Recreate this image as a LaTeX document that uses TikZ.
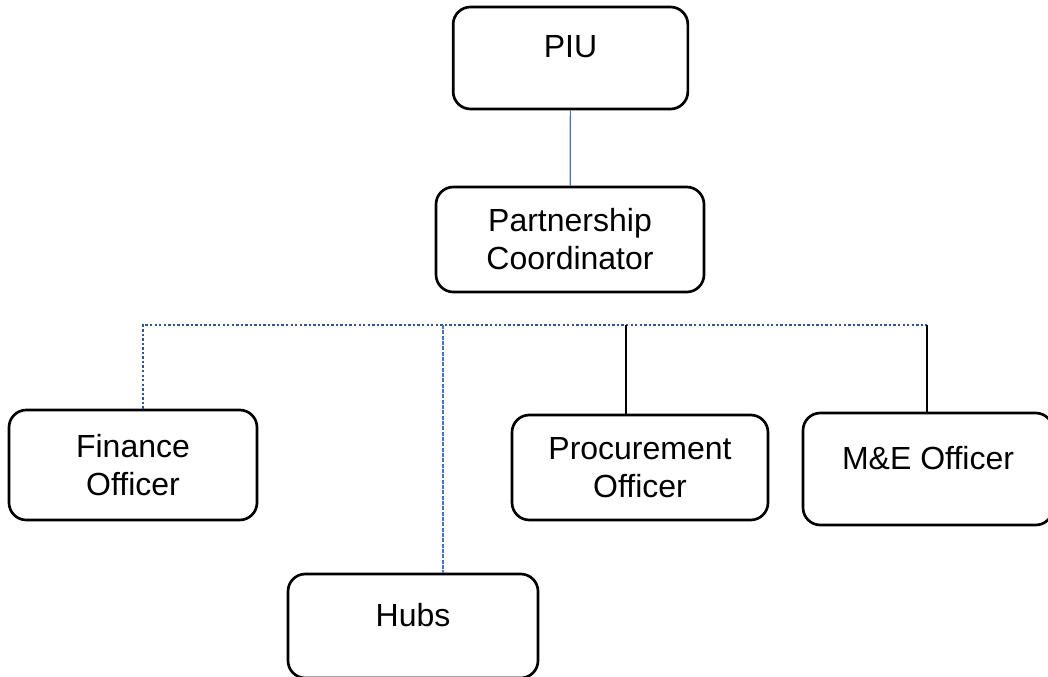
\documentclass[tikz,border=0pt]{standalone}
\usepackage{fontspec}
\setmainfont{Liberation Sans}
\definecolor{linkblue}{HTML}{4472C4}
\definecolor{busblue}{HTML}{2F5597}
\begin{document}
\begin{tikzpicture}[x=0.75pt,y=-0.75pt]

    \tikzstyle{post}=[draw,line width=2pt,rounded corners=13pt,align=center,inner sep=0pt,
        font=\fontsize{24}{28.5}\selectfont]
    \tikzstyle{one line}=[text height=17.2pt,text depth=17.2pt]
    \tikzstyle{bus}=[busblue,line width=2.2pt,dash pattern=on 1.8pt off 1.6pt]

    \useasboundingbox (0,0) rectangle (1048,677);

    \node[post,one line,minimum width=176pt,minimum height=76.5pt] (PIU) at (570.5,58) {PIU};
    \node[post,minimum width=201pt,minimum height=78.75pt] (Coord) at (570,239.5) {Partnership\\Coordinator};
    \node[post,minimum width=186pt,minimum height=82.5pt] (Finance) at (133,465) {Finance\\Officer};
    \node[post,one line,minimum width=187.5pt,minimum height=78pt] (Hubs) at (413,626) {Hubs};
    \node[post,minimum width=192pt,minimum height=78.75pt] (Procure) at (640,467.5) {Procurement\\Officer};
    \node[post,one line,minimum width=187.5pt,minimum height=84pt] (ME) at (928,469) {M\&E Officer};

    \coordinate (busL) at (143,325);
    \coordinate (busH) at (443,325);
    \coordinate (busP) at (626,325);
    \coordinate (busR) at (927,325);

    \draw[linkblue,line width=0.9pt] (PIU) -- (Coord);
    \draw[bus] (Finance.north -| busL) -- (busL) -- (busR);
    \draw[linkblue,line width=1pt,dash pattern=on 3pt off 1pt] (busH) -- (busH |- Hubs.north);
    \draw[line width=0.9pt] (busP) -- (busP |- Procure.north);
    \draw[line width=0.9pt] (busR) -- (busR |- ME.north);
\end{tikzpicture}
\end{document}
